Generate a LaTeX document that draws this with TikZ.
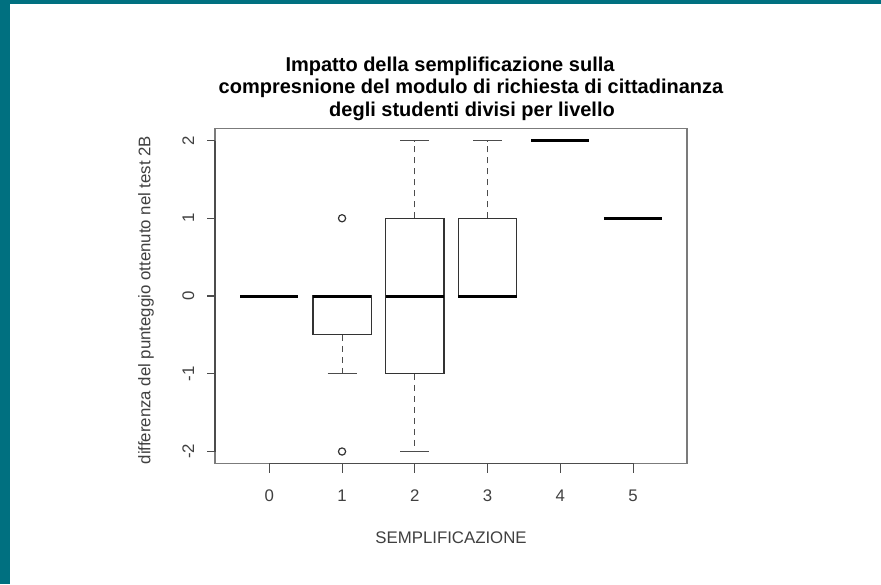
\documentclass[tikz,border=0pt]{standalone}
\usepackage{fontspec}
\setmainfont{Liberation Sans}
\definecolor{teal}{RGB}{0,112,128}
\definecolor{frameg}{RGB}{90,90,90}
\tikzset{
  boxline/.style={draw=black!80, line width=1.2pt},
  medline/.style={draw=black, line width=3pt},
  whisk/.style={draw=black!70, line width=1.1pt, dash pattern=on 6pt off 5pt},
  capline/.style={draw=black!70, line width=1.1pt},
  outl/.style={draw=black!80, line width=1.2pt},
  tickline/.style={draw=black!70, line width=1.1pt},
  ticklab/.style={font=\fontsize{16.8}{18}\selectfont, text=black!75, inner sep=0pt},
  ttl/.style={font=\fontsize{20}{23}\selectfont\bfseries, inner sep=0pt},
}
\begin{document}
\begin{tikzpicture}[x=1pt,y=-1pt]
\useasboundingbox (0,0) rectangle (881,584);
\fill[white] (0,0) rectangle (881,584);
\fill[teal] (0,0) rectangle (881,4);
\fill[teal] (0,0) rectangle (10,584);
% frame
\draw[draw=frameg!80, line width=1.2pt] (215,128.3) rectangle (687,463.3);
% title
\node[ttl, anchor=base] (t1) at (450,71) {Impatto della semplificazione sulla};
\node[ttl, anchor=base] (t2) at (471,93.5) {compresnione del modulo di richiesta di cittadinanza};
\node[ttl, anchor=base] (t3) at (472,116) {degli studenti divisi per livello};
% axis labels
\node[ticklab, anchor=base] (xl) at (451,543) {SEMPLIFICAZIONE};
\node[ticklab, rotate=90] (yl) at (146,300) {differenza del punteggio ottenuto nel test 2B};
% axes lines and ticks (pixel coordinates)
\draw[tickline] (269.3,463.3) -- (633.05,463.3);
\draw[tickline] (215,140.5) -- (215,451.5);
\foreach \k in {0,...,5}{
  \pgfmathsetmacro{\xx}{269.3+72.75*\k}
  \draw[tickline] (\xx,463.3) -- (\xx,472.5);
}
\foreach \v/\n in {-2/m2,-1/m1,0/z,1/p1,2/p2}{
  \pgfmathsetmacro{\yy}{296-77.75*\v}
  \draw[tickline] (215,\yy) -- (206.5,\yy);
}
% data scope
\begin{scope}[shift={(269.3,296)}, x=72.75pt, y=77.75pt]
  \foreach \k in {0,...,5}{
    \node[ticklab, anchor=base] (xt\k) at ([yshift=-205pt]\k,0) {\k};
  }
  \foreach \v/\n in {-2/m2,-1/m1,0/z,1/p1,2/p2}{
    \node[ticklab, anchor=base, rotate=90] (yt\n) at ([xshift=-75.3pt]0,\v) {\v};
  }
  % group 0
  \draw[medline] (-0.4,0) -- (0.4,0);
  % group 1
  \draw[whisk] (1,-0.5) -- (1,-1);
  \draw[capline] (0.8,-1) -- (1.2,-1);
  \draw[boxline] (0.6,-0.5) rectangle (1.4,0);
  \draw[medline] (0.6,0) -- (1.4,0);
  \draw[outl] (1,1) circle[radius=3.6pt];
  \draw[outl] (1,-2) circle[radius=3.6pt];
  % group 2
  \draw[whisk] (2,1) -- (2,2);
  \draw[whisk] (2,-1) -- (2,-2);
  \draw[capline] (1.8,2) -- (2.2,2);
  \draw[capline] (1.8,-2) -- (2.2,-2);
  \draw[boxline] (1.6,-1) rectangle (2.4,1);
  \draw[medline] (1.6,0) -- (2.4,0);
  % group 3
  \draw[whisk] (3,1) -- (3,2);
  \draw[capline] (2.8,2) -- (3.2,2);
  \draw[boxline] (2.6,0) rectangle (3.4,1);
  \draw[medline] (2.6,0) -- (3.4,0);
  % group 4
  \draw[medline] (3.6,2) -- (4.4,2);
  % group 5
  \draw[medline] (4.6,1) -- (5.4,1);
\end{scope}
\end{tikzpicture}
\end{document}
